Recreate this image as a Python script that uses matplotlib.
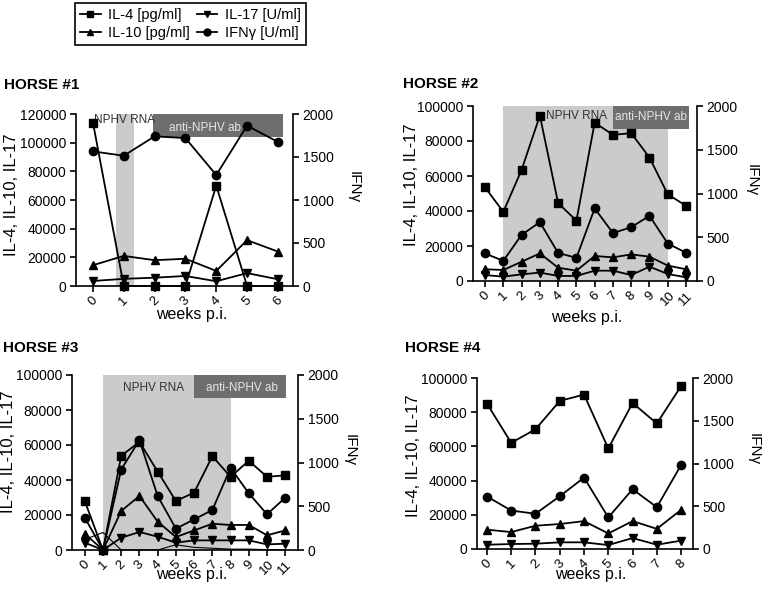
import matplotlib.pyplot as plt
from matplotlib.lines import Line2D

plt.rcParams['font.family'] = ['Liberation Sans', 'DejaVu Sans']

W, H = 762, 592

# --- HORSE #1 ---
weeks_h1 = [0, 1, 2, 3, 4, 5, 6]
il4_h1 = [114000, 0, 0, 0, 70000, 0, 0]
il10_h1 = [14500, 21000, 18000, 19000, 10500, 32000, 24000]
il17_h1 = [3500, 5000, 5800, 7000, 3300, 9000, 4700]
ifng_h1 = [1565, 1515, 1740, 1720, 1290, 1865, 1675]

# --- HORSE #2 ---
weeks_h2 = [0, 1, 2, 3, 4, 5, 6, 7, 8, 9, 10, 11]
il4_h2 = [53500, 39500, 63500, 94500, 44500, 34500, 90500, 83500, 84500, 70500, 49500, 43000]
il10_h2 = [6700, 6300, 11000, 15800, 7600, 5900, 14300, 13500, 15200, 13900, 8800, 6700]
il17_h2 = [3400, 2500, 3800, 4800, 2900, 2900, 5900, 5900, 3400, 8200, 4000, 2100]
ifng_h2 = [315, 230, 528, 672, 320, 265, 830, 548, 615, 745, 428, 323]

# --- HORSE #3 ---
weeks_h3 = [0, 1, 2, 3, 4, 5, 6, 7, 8, 9, 10, 11]
il4_h3 = [28000, 0, 53800, 61800, 44800, 28000, 32800, 53600, 41800, 51000, 41800, 42700]
il10_h3 = [9300, 0, 22300, 30900, 16200, 7400, 11200, 15000, 14300, 14300, 8400, 11200]
il17_h3 = [4200, 0, 7000, 10300, 7600, 4200, 5500, 5500, 5500, 5500, 3200, 3600]
ifng_h3 = [370, 0, 920, 1256, 617, 244, 350, 457, 939, 648, 408, 598]
extra_h3 = [6000, 10000, 0, 0, 0, 3000, 1500, 1000, 500, 500, 200, 0]

# --- HORSE #4 ---
weeks_h4 = [0, 1, 2, 3, 4, 5, 6, 7, 8]
il4_h4 = [85000, 62100, 70000, 86600, 90300, 58800, 85400, 73400, 95300]
il10_h4 = [11300, 9900, 13600, 14600, 16300, 9100, 16300, 11800, 22900]
il17_h4 = [2500, 2900, 3100, 3900, 3900, 2300, 6400, 2500, 4900]
ifng_h4 = [614, 450, 412, 617, 835, 369, 699, 489, 983]

LIGHT = '#cbcbcb'
DARK = '#6e6e6e'


def fx(px):
    return px / W


def fy(py):
    return 1 - py / H


def draw_panel(fig, box, weeks, il4, il10, il17, ifng, ymax, xlim,
               band=None, dark=None, rna_xy=None, rna_ha='left', ab_xy=None,
               extra=None):
    left, top, right, bottom = box
    ax = fig.add_axes([fx(left), fy(bottom), fx(right - left), (bottom - top) / H])
    ax2 = ax.twinx()

    if band:
        ax.axvspan(band[0], band[1], color=LIGHT, lw=0, zorder=0)
    if dark:
        ax.axvspan(dark[0], dark[1], ymin=1 - 23 / (bottom - top), ymax=1,
                   color=DARK, lw=0, zorder=0.5)
    if rna_xy:
        ax.text(rna_xy[0], rna_xy[1], 'NPHV RNA', fontsize=8.5, color='#333333',
                ha=rna_ha, va='center', zorder=1)
    if ab_xy:
        ax.text(ab_xy[0], ab_xy[1], 'anti-NPHV ab', fontsize=8.5, color='#e6e6e6',
                ha='center', va='center', zorder=1)

    if extra is not None:
        ax.plot(weeks, extra, color='k', lw=0.8, clip_on=False, zorder=2)
    for vals, m in [(il4, 's'), (il10, '^'), (il17, 'v')]:
        ax.plot(weeks, vals, color='k', marker=m, ms=6, lw=1.3, clip_on=False, zorder=3)
    ax2.plot(weeks, ifng, color='k', marker='o', ms=6, lw=1.3, clip_on=False, zorder=3)

    ax.set_xlim(*xlim)
    ax.set_ylim(0, ymax)
    ax2.set_ylim(0, 2000)
    ax.set_yticks(range(0, ymax + 1, 20000))
    ax2.set_yticks(range(0, 2001, 500))
    ax.set_xticks(weeks)
    ax.set_xticklabels([str(w) for w in weeks], rotation=45, ha='center', va='top')

    for a in (ax, ax2):
        a.spines['top'].set_visible(False)
        for s in a.spines.values():
            s.set_linewidth(1.2)
        a.tick_params(direction='out', length=4, width=1.2, labelsize=10, pad=3)
    ax.tick_params(axis='x', labelsize=9.5, pad=2)
    ax.spines['right'].set_visible(False)
    ax2.spines['left'].set_visible(False)
    ax2.spines['bottom'].set_visible(False)
    return ax, ax2


fig = plt.figure(figsize=(W / 100, H / 100), dpi=100)

draw_panel(fig, (76, 114, 293, 286), weeks_h1, il4_h1, il10_h1, il17_h1, ifng_h1,
           120000, (-0.55, 6.49), band=(0.75, 1.33), dark=(1.95, 6.17),
           rna_xy=(0.05, 115500), ab_xy=(3.64, 110500))
draw_panel(fig, (473, 106, 697, 281), weeks_h2, il4_h2, il10_h2, il17_h2, ifng_h2,
           100000, (-0.66, 11.6), band=(1, 10), dark=(7.0, 11.15),
           rna_xy=(3.35, 94300), ab_xy=(9.07, 94000))
draw_panel(fig, (72, 375, 298, 550), weeks_h3, il4_h3, il10_h3, il17_h3, ifng_h3,
           100000, (-0.7, 11.7), band=(1, 8), dark=(6.0, 11.04),
           rna_xy=(3.77, 92500), rna_ha='center', ab_xy=(8.6, 92500), extra=extra_h3)
draw_panel(fig, (477, 378, 693, 549), weeks_h4, il4_h4, il10_h4, il17_h4, ifng_h4,
           100000, (-0.41, 8.49))

# panel titles and axis labels
titles = [('HORSE #1', 4, 85), ('HORSE #2', 403, 84), ('HORSE #3', 3, 348), ('HORSE #4', 405, 348)]
for t, x, y in titles:
    fig.text(fx(x), fy(y), t, fontsize=11, fontweight='bold', ha='left', va='center')

for x, y in [(12, 195), (411, 185), (9, 452), (413, 456)]:
    fig.text(fx(x), fy(y), 'IL-4, IL-10, IL-17', fontsize=12, rotation=90,
             ha='center', va='center')
for x, y in [(354, 187), (752, 180), (350, 450), (754, 449)]:
    fig.text(fx(x), fy(y), 'IFNγ', fontsize=11, rotation=270, ha='center', va='center')
for x, y in [(192, 314), (587, 317), (192, 575), (591, 575)]:
    fig.text(fx(x), fy(y), 'weeks p.i.', fontsize=11.5, ha='center', va='center')

handles = [
    Line2D([], [], color='k', marker='s', ms=5, lw=1.3),
    Line2D([], [], color='k', marker='^', ms=5, lw=1.3),
    Line2D([], [], color='k', marker='v', ms=5, lw=1.3),
    Line2D([], [], color='k', marker='o', ms=5, lw=1.3),
]
labels = ['IL-4 [pg/ml]', 'IL-10 [pg/ml]', 'IL-17 [U/ml]', 'IFNγ [U/ml]']
leg = fig.legend(handles, labels, loc='upper left', bbox_to_anchor=(fx(75), fy(3)),
                 borderaxespad=0, ncol=2, fontsize=10.5, frameon=True, fancybox=False,
                 edgecolor='black', framealpha=1, borderpad=0.35, handlelength=1.4,
                 handletextpad=0.5, columnspacing=0.5, labelspacing=0.25)
leg.get_frame().set_linewidth(1.2)

fig.savefig('out.png', dpi=100)
